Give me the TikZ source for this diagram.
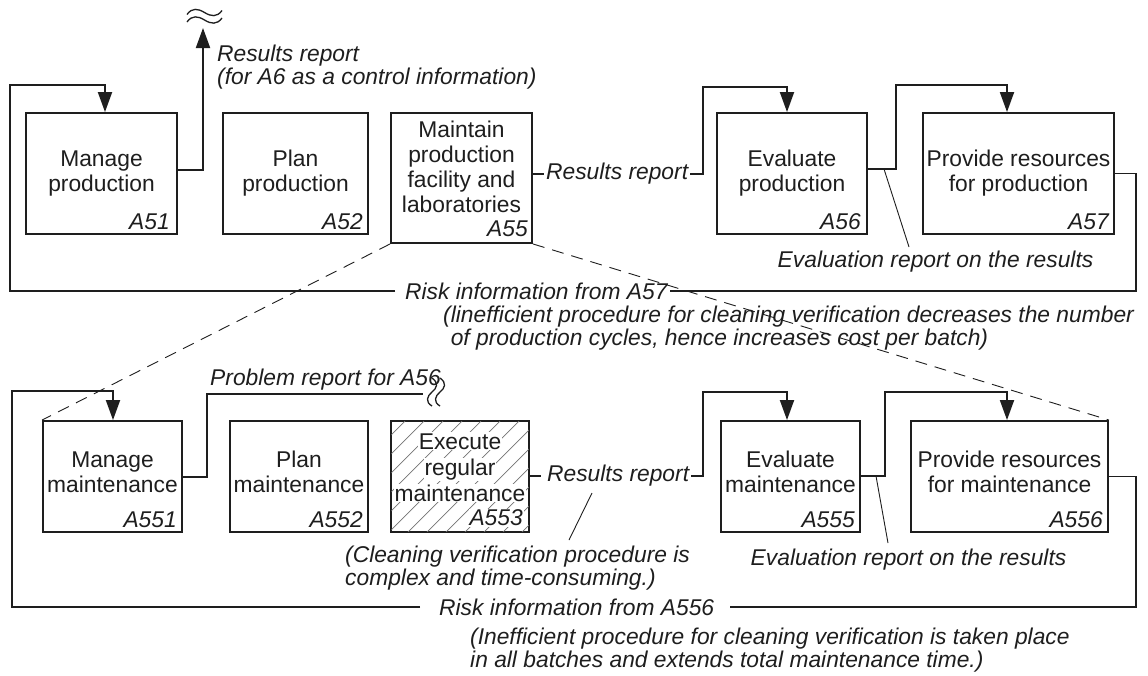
\documentclass[tikz,border=0pt]{standalone}
\usepackage{fontspec}
\setmainfont{Liberation Sans}
\usetikzlibrary{arrows.meta,calc,fit}

\definecolor{ink}{HTML}{1E1E1E}

% multi-line text whose baseline is the baseline of its first line
\newcommand\boxlines[1]{\begin{tabular}[t]{@{}c@{}}#1\end{tabular}}
\newcommand\notelines[1]{\begin{tabular}[t]{@{}l@{}}#1\end{tabular}}

\tikzset{
  actbox/.style={draw=ink, line width=1.9pt, inner sep=0pt},
  flow/.style={draw=ink, line width=1.9pt},
  arrowed/.style={flow, -{Triangle[length=20pt,width=14pt]}},
  leader/.style={draw=ink, line width=0.9pt},
  guide/.style={draw=ink, line width=0.9pt, dash pattern=on 12pt off 8pt},
  hatchline/.style={draw=black!55, line width=0.7pt},
  boxtxt/.style={font=\fontsize{22.8}{25}\selectfont, inner sep=0pt, text=ink, anchor=base},
  idtxt/.style={font=\fontsize{22.8}{25}\selectfont\itshape, inner sep=0pt, text=ink, anchor=base east},
  note/.style={font=\fontsize{22.8}{23}\selectfont\itshape, inner sep=0pt, text=ink},
  wave/.style={draw=ink, line width=1.3pt},
}

\begin{document}
\begin{tikzpicture}[x=1pt,y=-1pt]
\fill[white] (0,0) rectangle (1148,675);
\useasboundingbox (0,0) rectangle (1148,675);

% ---------------- A5: production level ----------------
\node[actbox, fit={(26,113) (177,234)}]  (a51) {};
\node[actbox, fit={(223,113) (368,234)}] (a52) {};
\node[actbox, fit={(391,113) (532,243)}] (a55) {};
\node[actbox, fit={(717,113) (867,234)}] (a56) {};
\node[actbox, fit={(923,113) (1114,234)}] (a57) {};

\node[boxtxt] (t51) at ($(a51.north)+(0,54)$) {\boxlines{Manage\\production}};
\node[boxtxt] (t52) at ($(a52.north)+(0,54)$) {\boxlines{Plan\\production}};
\node[boxtxt] (t55) at ($(a55.north)+(0,25)$) {\boxlines{Maintain\\production\\facility and\\laboratories}};
\node[boxtxt] (t56) at ($(a56.north)+(0,54)$) {\boxlines{Evaluate\\production}};
\node[boxtxt] (t57) at ($(a57.north)+(0,54)$) {\boxlines{Provide resources\\for production}};

\node[idtxt] (i51) at ($(a51.south east)+(-8,-5)$) {A51};
\node[idtxt] (i52) at ($(a52.south east)+(-6,-5)$) {A52};
\node[idtxt] (i55) at ($(a55.south east)+(-5,-7)$) {A55};
\node[idtxt] (i56) at ($(a56.south east)+(-7,-5)$) {A56};
\node[idtxt] (i57) at ($(a57.south east)+(-6,-5)$) {A57};

% results report of A51, leaving the diagram
\coordinate (top51) at (203,28);
\draw[arrowed] ($(a51.east)+(0,-3.5)$) -| (top51);
\draw[wave] (187,14.5) .. controls (192,7.5) and (198,8.5) .. (204.5,12.5) .. controls (211,16.5) and (217,17.5) .. (222,10.5);
\draw[wave] (187,22) .. controls (192,15) and (198,16) .. (204.5,20) .. controls (211,24) and (217,25) .. (222,18);
\node[note, anchor=base west] (res51) at (217,61)
  {\notelines{Results report\\(for A6 as a control information)}};

% A55 -> A56
\node[note, anchor=west] (res55) at (546,174) {Results report};
\draw[flow] (a55.east |- res55.west) -- ($(res55.west)+(-2,0)$);
\draw[arrowed] ($(res55.east)+(2,0)$) -| (703,87) -| ($(a56.north)+(-5,0)$);

% A56 -> A57
\draw[arrowed] ($(a56.east)+(0,-4.5)$) -| (896,85) -| ($(a57.north)+(-11.5,0)$);
\coordinate (tap56) at (884,169);
\node[note, anchor=base] (ev56) at (935.5,267) {Evaluation report on the results};
\coordinate (lead56) at (909,247);
\draw[leader] (tap56) -- (lead56);

% risk feedback A57 -> A51
\node[note, anchor=west] (riskA) at (405,291) {Risk information from A57};
\draw[flow] (a57.east) -| (1136,291) -- ($(riskA.east)+(2,0)$);
\draw[arrowed] ($(riskA.west)+(-10,0)$) -- (10,291) |- ($(a51.north)+(3.5,-27)$) -- ($(a51.north)+(3.5,0)$);
\node[note, anchor=base west] (noteA) at (443,322)
  {\notelines{(linefficient procedure for cleaning verification decreases the number\\\hphantom{(}of production cycles, hence increases cost per batch)}};

% ---------------- A55: maintenance level ----------------
\node[actbox, fit={(43,421) (182,532)}]   (a551) {};
\node[actbox, fit={(230,421) (368,532)}]  (a552) {};
\node[actbox, fit={(391,421) (529,532)}]  (a553) {};
\node[actbox, fit={(721,421) (860,532)}]  (a555) {};
\node[actbox, fit={(911,421) (1108,532)}] (a556) {};

% hatching of the activity at risk
\begin{scope}
  \clip ($(a553.south west)+(1.2,-1.2)$) rectangle ($(a553.north east)+(-1.2,1.2)$);
  \foreach \k in {0,...,12}
    \draw[hatchline] ({405+19*\k},421) -- ++(-115,115);
\end{scope}

\node[boxtxt] (t551) at ($(a551.north)+(0,47)$) {\boxlines{Manage\\maintenance}};
\node[boxtxt] (t552) at ($(a552.north)+(0,47)$) {\boxlines{Plan\\maintenance}};
\node[boxtxt, fill=white, inner sep=1pt] (t553a) at ($(a553.north)+(0,29)$) {Execute};
\node[boxtxt, fill=white, inner sep=1pt] (t553b) at ($(a553.north)+(0,55)$) {regular};
\node[boxtxt, fill=white, inner sep=1pt] (t553c) at ($(a553.north)+(0,81)$) {maintenance};
\node[boxtxt] (t555) at ($(a555.north)+(0,47)$) {\boxlines{Evaluate\\maintenance}};
\node[boxtxt] (t556) at ($(a556.north)+(0,47)$) {\boxlines{Provide resources\\for maintenance}};

\node[idtxt] (i551) at ($(a551.south east)+(-6,-5)$) {A551};
\node[idtxt] (i552) at ($(a552.south east)+(-6,-5)$) {A552};
\node[idtxt, fill=white, inner sep=1pt] (i553) at ($(a553.south east)+(-6,-7)$) {A553};
\node[idtxt] (i555) at ($(a555.south east)+(-6,-5)$) {A555};
\node[idtxt] (i556) at ($(a556.south east)+(-6,-5)$) {A556};

% problem report of A551 towards A56
\node[note, anchor=base west] (prob) at (210,385) {Problem report for A56};
\coordinate (cut551) at (423,394);
\draw[flow] ($(a551.east)+(0,0.5)$) -| (207,394) -- (cut551);
\draw[wave] (432,378) .. controls (439,383) and (437,388) .. (432,392) .. controls (427,396) and (425,402) .. (432,406);
\draw[wave] (440,378) .. controls (447,383) and (445,388) .. (440,392) .. controls (435,396) and (433,402) .. (440,406);

% A553 -> A555
\node[note, anchor=west] (res553) at (547,476) {Results report};
\draw[flow] (a553.east |- res553.west) -- ($(res553.west)+(-6,0)$);
\draw[arrowed] ($(res553.east)+(2,0)$) -| (703,392) -| ($(a555.north)+(-3.5,0)$);
\coordinate (tap553) at (592,493);
\coordinate (lead553) at (569,540);
\draw[leader] (tap553) -- (lead553);
\node[note, anchor=base west] (clean) at (345,562)
  {\notelines{(Cleaning verification procedure is\\complex and time-consuming.)}};

% A555 -> A556
\draw[arrowed] ($(a555.east)+(0,-0.5)$) -| (885,392) -| ($(a556.north)+(-2.5,0)$);
\coordinate (tap555) at (876,476);
\coordinate (lead555) at (888,543);
\draw[leader] (tap555) -- (lead555);
\node[note, anchor=base] (ev555) at (908.5,565) {Evaluation report on the results};

% risk feedback A556 -> A551
\node[note, anchor=west] (riskB) at (439,607) {Risk information from A556};
\draw[flow] (a556.east) -| (1136,607) -- ($(riskB.east)+(16,0)$);
\draw[arrowed] ($(riskB.west)+(-19,0)$) -- (12,607) |- ($(a551.north)+(0.5,-29)$) -- ($(a551.north)+(0.5,0)$);
\node[note, anchor=base west] (noteB) at (470,644)
  {\notelines{(Inefficient procedure for cleaning verification is taken place\\in all batches and extends total maintenance time.)}};

% decomposition of A55
\draw[guide] (a55.south west) -- (a551.north west);
\draw[guide] (a55.south east) -- (a556.north east);
\end{tikzpicture}
\end{document}
